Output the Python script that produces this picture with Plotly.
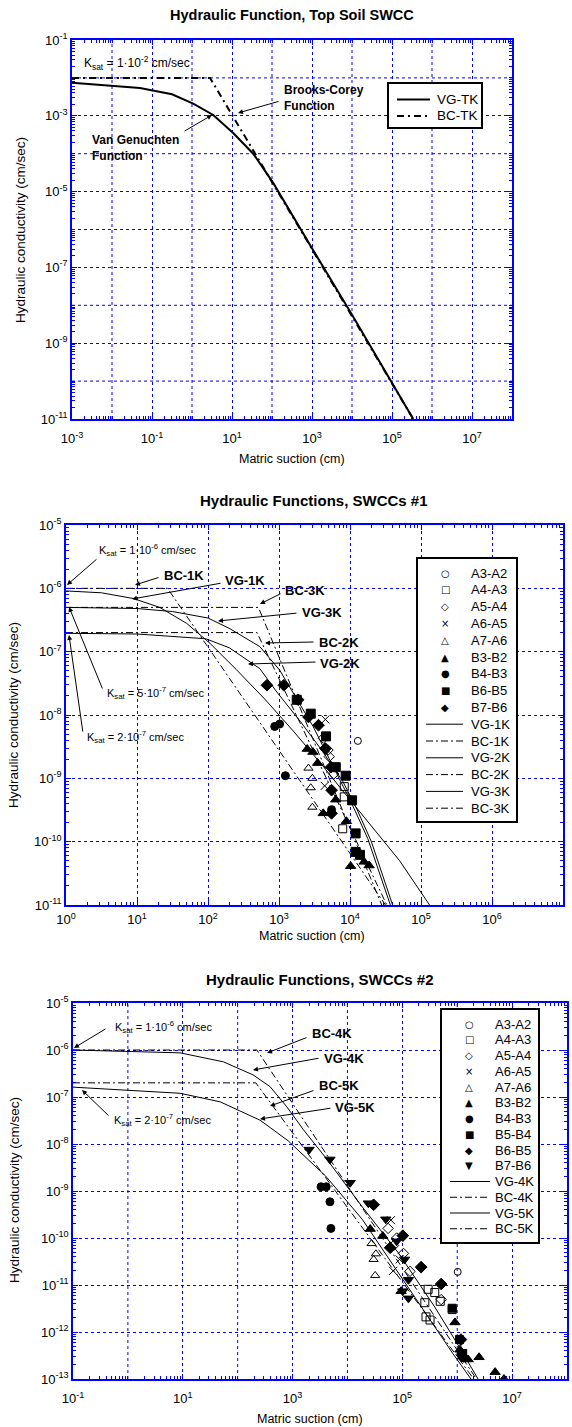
import plotly.graph_objects as go

W, H = 572, 1427
FONT = "Liberation Sans, Arial, sans-serif"
SYMFONT = "DejaVu Sans, sans-serif"

# ---------------- Panel 1: Top soil ----------------
tk_vg_h = [1e-3, 1e-2, 0.05, 0.316, 1.07, 3.39, 10.7, 33.9, 107, 1000, 1e4, 3.39e5]
tk_vg_k = [7.4e-3, 6.3e-3, 5.4e-3, 3.7e-3, 2.1e-3, 1.05e-3, 3.5e-4, 1.0e-4, 1.7e-5, 3.2e-7, 5.6e-9, 1e-11]
tk_bc_h = [1e-3, 2.82, 3.39e5]
tk_bc_k = [1e-2, 1e-2, 1e-11]

# ---------------- Panel 2: SWCCs #1 ----------------
p2_series = {
    "A3-A2": ([1.29e4], [3.9e-9]),
    "A4-A3": ([8.3e3, 8.3e3, 7.9e3], [7.4e-10, 5.1e-10, 1.6e-10]),
    "A5-A4": ([4.2e3, 4.9e3, 5.1e3, 5.9e3], [4.3e-9, 2.8e-9, 2.2e-9, 1.17e-9]),
    "A6-A5": ([4.5e3, 4.4e3], [8.5e-9, 7.6e-10]),
    "A7-A6": ([2.6e3, 2.95e3, 2.8e3, 2.95e3], [1.45e-9, 1.0e-9, 7.1e-10, 3.5e-10]),
    "B3-B2": ([2.5e3, 3.0e3, 3.5e3, 4.2e3, 6.3e3, 8.9e3, 1.02e4, 1.58e4, 1.86e4],
              [2.9e-9, 2.6e-9, 1.74e-9, 2.8e-10, 4.6e-10, 2.1e-10, 4.1e-11, 4.8e-11, 4.2e-11]),
    "B4-B3": ([870, 1.02e3, 1.23e3, 5.5e3, 1.2e4], [6.6e-9, 7.2e-9, 1.1e-9, 3.2e-10, 6.9e-11]),
    "B6-B5": ([1.78e3, 2.8e3, 4.6e3, 6.3e3, 8.7e3, 1.07e4, 1.2e4, 1.2e4, 1.38e4],
              [1.74e-8, 1.05e-8, 4.6e-9, 1.5e-9, 1.1e-9, 4.5e-10, 1.35e-10, 6.9e-11, 6.2e-11]),
    "B7-B6": ([676, 1.17e3, 1.86e3, 2.6e3, 3.6e3, 4.5e3, 5.4e3, 5.5e3, 5.5e3],
              [2.95e-8, 2.95e-8, 1.74e-8, 9.3e-9, 6.9e-9, 2.95e-9, 1.5e-9, 6.5e-10, 2.8e-10]),
}
vg1k_h = [1, 3.16, 8.9, 20.9, 50, 107, 251, 631, 1585, 3981, 7943, 2e4, 5e4, 1.32e5]
vg1k_k = [9.1e-7, 8.5e-7, 6.9e-7, 5.0e-7, 2.8e-7, 1.35e-7, 5.2e-8, 1.78e-8, 5.6e-9, 1.66e-9, 6.3e-10, 1.78e-10, 5e-11, 1e-11]
bc1k_h = [1, 26.9, 3.16e4]
bc1k_k = [1e-6, 1e-6, 1e-11]
vg2k_h = [1, 10, 93, 200, 537, 933, 2000, 3981, 7943, 1.26e4, 2e4, 3.98e4]
vg2k_k = [1.95e-7, 1.9e-7, 1.6e-7, 1.15e-7, 5.4e-8, 2.3e-8, 7.9e-9, 2.8e-9, 8.9e-10, 3.2e-10, 1e-10, 1e-11]
bc2k_h = [1, 490, 3.3e4]
bc2k_k = [2e-7, 2e-7, 1e-11]
vg3k_h = [1, 10, 31.6, 100, 204, 537, 1023, 1585, 3020, 6457, 1e4, 1.78e4, 3.7e4]
vg3k_k = [5.0e-7, 4.8e-7, 4.3e-7, 3.4e-7, 2.3e-7, 1.2e-7, 5.1e-8, 2.2e-8, 6.6e-9, 1.2e-9, 4.6e-10, 1.12e-10, 1e-11]
bc3k_h = [1, 513, 2.8e4]
bc3k_k = [5e-7, 5e-7, 1e-11]

# ---------------- Panel 3: SWCCs #2 ----------------
p3_series = {
    "A3-A2": ([1.02e6], [1.9e-11]),
    "A4-A3": ([2.95e5, 3.9e5, 2.57e5, 2.7e5, 3.2e5, 4.9e5, 8.1e5],
              [8.1e-12, 6.9e-12, 4.2e-12, 2.1e-12, 1.8e-12, 4.5e-12, 3.0e-12]),
    "A5-A4": ([5.5e4, 6.9e4, 7.9e4, 1.05e5, 1.38e5, 5.1e5], [1.6e-10, 6.9e-11, 1e-10, 4.7e-11, 1.95e-11, 4.9e-12]),
    "A6-A5": ([6.2e4, 6.8e4, 8.9e4], [2.4e-10, 2.0e-11, 3.5e-11]),
    "A7-A6": ([2.75e4, 3.3e4, 3.0e4, 3.2e4], [7.6e-11, 4.6e-11, 3.5e-11, 1.6e-11]),
    "B3-B2": ([2.6e4, 4.4e4, 9.5e4, 9.1e5, 1.12e6, 1.26e6, 1.58e6, 2.5e6, 4.9e6, 7.1e6],
              [1.55e-10, 1.1e-10, 7.4e-12, 1.6e-12, 4.2e-13, 3.0e-13, 2.6e-13, 2.9e-13, 1.4e-13, 1.0e-13]),
    "B4-B3": ([3.3e3, 4.1e3, 4.8e3, 5.0e3, 1.17e6, 1.3e6], [1.23e-9, 1.23e-9, 5.9e-10, 1.6e-10, 3.3e-13, 2.8e-13]),
    "B5-B4": ([1.1e6, 1.26e6, 8.1e5], [6.9e-13, 3.5e-13, 3.2e-12]),
    "B6-B5": ([3.0e4, 1.02e5, 6.0e4, 2.2e5, 5.1e5, 1.17e6], [5.1e-10, 1.12e-10, 6.2e-11, 2.4e-11, 1.05e-11, 6.9e-13]),
    "B7-B6": ([2.0e3, 4.8e3, 1.12e4, 2.4e4, 5.0e4, 7.9e4, 1.1e5, 1.29e5, 1.02e5, 1.29e5],
              [7.6e-9, 4.7e-9, 1.5e-9, 5.5e-10, 2.5e-10, 8.5e-11, 3.5e-11, 1.29e-11, 7.4e-12, 5.2e-12]),
}
vg4k_h = [0.1, 8.9, 55, 191, 389, 776, 1585, 4074, 1.86e4, 8.5e4, 3.9e5, 9.8e5, 2.4e6]
vg4k_k = [1.0e-6, 8.7e-7, 5.6e-7, 2.95e-7, 1.66e-7, 6.3e-8, 2.0e-8, 5.0e-9, 4.6e-10, 4.8e-11, 3.4e-12, 5.9e-13, 1e-13]
bc4k_h = [0.1, 224, 2.24e6]
bc4k_k = [1e-6, 1e-6, 1e-13]
vg5k_h = [0.1, 8.9, 47.9, 257, 832, 1995, 3981, 1.86e4, 8.5e4, 3.9e5, 8.3e5, 1.78e6]
vg5k_k = [1.62e-7, 1.2e-7, 7.9e-8, 3.2e-8, 1.17e-8, 4.5e-9, 2.1e-9, 2.5e-10, 1.78e-11, 1.29e-12, 3.5e-13, 1e-13]
bc5k_h = [0.1, 214, 2.0e6]
bc5k_k = [2e-7, 2e-7, 1e-13]

# ---------------- styling ----------------
MARKERS = {
    "A3-A2": ("circle-open", 7, "\u25cb"), "A4-A3": ("square-open", 8, "\u25a1"),
    "A5-A4": ("diamond-open", 8, "\u25c7"), "A6-A5": ("x-thin-open", 8, "\u00d7"),
    "A7-A6": ("triangle-up-open", 8, "\u25b3"), "B3-B2": ("triangle-up", 9, "\u25b2"),
    "B4-B3": ("circle", 8, "\u25cf"), "B5-B4": ("square", 8, "\u25a0"),
    "B6-B5": ("square", 9, "\u25a0"), "B7-B6": ("diamond", 9, "\u25c6"),
}
P3_MARKERS = dict(MARKERS)
P3_MARKERS["B6-B5"] = ("diamond", 9, "\u25c6")
P3_MARKERS["B7-B6"] = ("triangle-down", 9, "\u25bc")

DASHDOT = "7px,3px,2px,3px"
DASHDOT_THICK = "7px,4px,2px,4px"
BLUE = "#0000ff"

fig = go.Figure()


def px(x):
    return x / W


def py(y):
    return 1 - y / H


def add_line(h, k, name, dash, width, xa, ya):
    fig.add_trace(go.Scatter(x=h, y=k, mode="lines", name=name, xaxis=xa, yaxis=ya, showlegend=False,
                             line=dict(color="black", width=width, dash=dash)))


def add_points(series, markers, xa, ya):
    for name, (h, k) in series.items():
        sym, sz, _ = markers[name]
        fig.add_trace(go.Scatter(x=h, y=k, mode="markers", name=name, xaxis=xa, yaxis=ya, showlegend=False,
                                 marker=dict(symbol=sym, size=sz, color="black",
                                             line=dict(color="black", width=1))))


add_line(tk_vg_h, tk_vg_k, "VG-TK", "solid", 2, "x", "y")
add_line(tk_bc_h, tk_bc_k, "BC-TK", DASHDOT_THICK, 2, "x", "y")

add_points(p2_series, MARKERS, "x2", "y2")
p2_lines = [("VG-1K", vg1k_h, vg1k_k, "solid"), ("BC-1K", bc1k_h, bc1k_k, DASHDOT),
            ("VG-2K", vg2k_h, vg2k_k, "solid"), ("BC-2K", bc2k_h, bc2k_k, DASHDOT),
            ("VG-3K", vg3k_h, vg3k_k, "solid"), ("BC-3K", bc3k_h, bc3k_k, DASHDOT)]
for name, h, k, d in p2_lines:
    add_line(h, k, name, d, 1, "x2", "y2")

add_points(p3_series, P3_MARKERS, "x3", "y3")
p3_lines = [("VG-4K", vg4k_h, vg4k_k, "solid"), ("BC-4K", bc4k_h, bc4k_k, DASHDOT),
            ("VG-5K", vg5k_h, vg5k_k, "solid"), ("BC-5K", bc5k_h, bc5k_k, DASHDOT)]
for name, h, k, d in p3_lines:
    add_line(h, k, name, d, 1, "x3", "y3")

shapes = []


def log_axis(lo, hi, label_step, domain, anchor, letter, tick_size=13, standoff=0):
    labeled = [e for e in range(lo, hi + 1) if (e - lo) % label_step == 0]
    unlabeled = [e for e in range(lo + 1, hi) if (e - lo) % label_step != 0]
    minor_vals = [m * 10.0 ** e for e in range(lo, hi) for m in range(2, 10)] + [10.0 ** e for e in unlabeled]
    suffix = letter[1:]
    for e in unlabeled:
        v = 10.0 ** e
        if letter[0] == "x":
            shapes.append(dict(type="line", xref="x" + suffix, yref="y" + suffix + " domain",
                               x0=v, x1=v, y0=0, y1=1, layer="below",
                               line=dict(color=BLUE, width=1, dash="dot")))
        else:
            shapes.append(dict(type="line", yref="y" + suffix, xref="x" + suffix + " domain",
                               y0=v, y1=v, x0=0, x1=1, layer="below",
                               line=dict(color=BLUE, width=1, dash="dot")))
    return dict(type="log", range=[lo, hi], domain=domain, anchor=anchor, automargin=False,
                tickmode="array", tickvals=[10.0 ** e for e in labeled],
                ticktext=["10<sup>%d</sup>" % e for e in labeled],
                ticks="inside", ticklen=5, tickcolor=BLUE, tickwidth=1,
                ticklabelstandoff=standoff,
                showline=True, linecolor=BLUE, linewidth=1.5, mirror="allticks",
                showgrid=True, gridcolor=BLUE, griddash="dot", gridwidth=1,
                zeroline=False,
                tickfont=dict(family=FONT, size=tick_size, color="black"),
                minor=dict(tickmode="array", tickvals=minor_vals, ticks="inside",
                           ticklen=3, tickcolor=BLUE, showgrid=False))


layout = dict(
    template="none",
    width=W, height=H, margin=dict(l=0, r=0, t=0, b=0, autoexpand=False),
    paper_bgcolor="white", plot_bgcolor="white", showlegend=False,
    font=dict(family=FONT, color="black"),
    xaxis=log_axis(-3, 8, 2, [px(72), px(512)], "y", "x", 13, 7),
    yaxis=log_axis(-11, -1, 2, [py(419), py(40)], "x", "y"),
    xaxis2=log_axis(0, 7, 1, [px(66), px(563)], "y2", "x2", 13, 2),
    yaxis2=log_axis(-11, -5, 1, [py(905), py(525)], "x2", "y2"),
    xaxis3=log_axis(-1, 8, 2, [px(73), px(567)], "y3", "x3", 13, 7),
    yaxis3=log_axis(-13, -5, 1, [py(1379), py(1003)], "x3", "y3"),
)
fig.update_layout(**layout)

ann = []


def text(x, y, s, size=12, bold=False, anchor="left", angle=0, family=FONT):
    if bold:
        s = "<b>" + s + "</b>"
    ann.append(dict(x=px(x), y=py(y), xref="paper", yref="paper", text=s, showarrow=False,
                    xanchor=anchor, yanchor="middle", textangle=angle, align="left",
                    font=dict(family=family, size=size, color="black")))


def arrow(x0, y0, x1, y1):
    ann.append(dict(x=px(x1), y=py(y1), xref="paper", yref="paper", text="",
                    showarrow=True, ax=x0 - x1, ay=y0 - y1, axref="pixel", ayref="pixel",
                    arrowhead=2, arrowsize=1, arrowwidth=1, arrowcolor="black",
                    standoff=0, startstandoff=0))


def legend_box(x0, y0, x1, y1, entries, y_first, step, sym_x, line_x0, line_x1, text_x, size, lw):
    shapes.append(dict(type="rect", xref="paper", yref="paper", x0=px(x0), x1=px(x1), y0=py(y1), y1=py(y0),
                       line=dict(color="black", width=2), fillcolor="white", layer="above"))
    for i, (label, kind, val) in enumerate(entries):
        yc = y_first + i * step
        if kind == "marker":
            text(sym_x, yc, val, 10, False, "center", family=SYMFONT)
        else:
            shapes.append(dict(type="line", xref="paper", yref="paper", x0=px(line_x0), x1=px(line_x1),
                               y0=py(yc), y1=py(yc), layer="above",
                               line=dict(color="black", width=lw, dash=val)))
        text(text_x, yc, label, size)


# titles and axis titles
text(292, 15, "Hydraulic Function, Top Soil SWCC", 14.5, True, "center")
text(314, 501, "Hydraulic Functions, SWCCs #1", 15, True, "center")
text(320, 980, "Hydraulic Functions, SWCCs #2", 15, True, "center")
for cx, cy in [(21, 230), (13, 715), (14, 1190)]:
    text(cx, cy, "Hydraulic conductivity (cm/sec)", 13.5, False, "center", -90)
text(292, 459, "Matric suction (cm)", 12.5, False, "center")
text(312, 936, "Matric suction (cm)", 12.5, False, "center")
text(310, 1419, "Matric suction (cm)", 12.5, False, "center")

# legends
legend_box(388, 83, 482, 128, [("VG-TK", "line", "solid"), ("BC-TK", "line", DASHDOT_THICK)],
           99.5, 16.5, 0, 397, 430, 435, 13.5, 2)
p2_entries = [(n, "marker", MARKERS[n][2]) for n in p2_series] + [(n, "line", d) for n, _, _, d in p2_lines]
legend_box(417, 558, 517, 822, p2_entries, 573, 16.8, 445, 426, 463, 469, 13, 1)
p3_entries = [(n, "marker", P3_MARKERS[n][2]) for n in p3_series] + [(n, "line", d) for n, _, _, d in p3_lines]
legend_box(441, 1009, 539, 1243, p3_entries, 1024, 15.75, 469, 450, 490, 493, 13, 1)

# panel 1 notes
text(82, 63, "K<sub>sat</sub> = 1·10<sup>-2</sup> cm/sec", 12)
text(282, 98, "Brooks-Corey<br>Function", 12, True)
arrow(280, 101, 238, 113)
text(90, 148, "Van Genuchten<br>Function", 12, True)
arrow(183, 132, 212, 115)

# panel 2 notes
text(97, 550, "K<sub>sat</sub> = 1·10<sup>-6</sup> cm/sec", 11)
arrow(98, 558, 67, 585)
text(162, 575, "BC-1K", 13, True)
arrow(160, 577, 135, 585)
text(223, 580, "VG-1K", 13, True)
arrow(222, 583, 132, 599)
text(283, 590, "BC-3K", 13, True)
arrow(282, 593, 260, 604)
text(300, 612, "VG-3K", 13, True)
arrow(298, 613, 218, 621)
text(317, 642, "BC-2K", 13, True)
arrow(315, 642, 265, 643)
text(318, 663, "VG-2K", 13, True)
arrow(317, 662, 248, 664)
text(105, 693, "K<sub>sat</sub> = 5·10<sup>-7</sup> cm/sec", 11)
arrow(103, 690, 69, 607)
text(85, 737, "K<sub>sat</sub> = 2·10<sup>-7</sup> cm/sec", 11)
arrow(83, 733, 69, 635)

# panel 3 notes
text(113, 1027, "K<sub>sat</sub> = 1·10<sup>-6</sup> cm/sec", 11)
arrow(107, 1028, 74, 1048)
text(310, 1033, "BC-4K", 13, True)
arrow(308, 1037, 267, 1053)
text(322, 1058, "VG-4K", 13, True)
arrow(320, 1058, 253, 1070)
text(317, 1085, "BC-5K", 13, True)
arrow(315, 1090, 270, 1106)
text(333, 1107, "VG-5K", 13, True)
arrow(332, 1108, 260, 1119)
text(112, 1120, "K<sub>sat</sub> = 2·10<sup>-7</sup> cm/sec", 11)
arrow(110, 1117, 82, 1090)

fig.update_layout(annotations=ann, shapes=shapes)
fig.write_html("out.html", config={"displayModeBar": False},
               post_script="document.body.style.margin='0px';document.body.style.padding='0px';"
                           "document.body.style.overflow='hidden';")
